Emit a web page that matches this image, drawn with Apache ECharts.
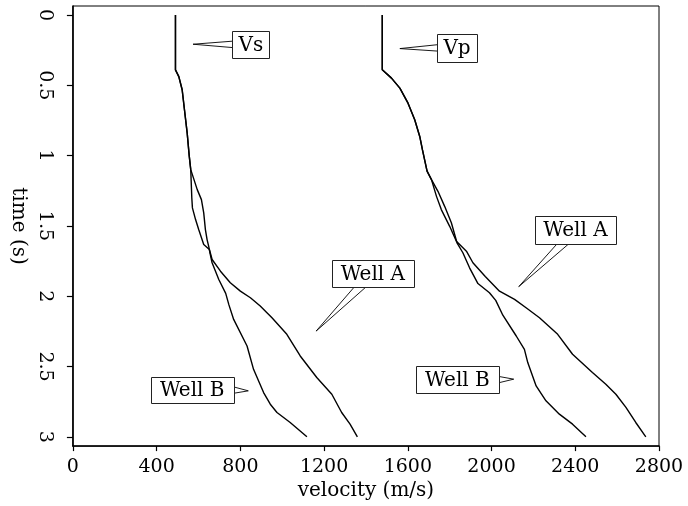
<!DOCTYPE html>
<html>
<head>
<meta charset="utf-8">
<script src="https://cdn.jsdelivr.net/npm/echarts@6/dist/echarts.min.js"></script>
<style>
html,body{margin:0;padding:0;background:#fff;}
#chart{width:688px;height:506px;}
</style>
</head>
<body>
<div id="chart"></div>
<script>
// ---- data (time in s, velocity in m/s) ----
const vsWellATime = [0, 0.39, 0.438, 0.532, 0.674, 0.84, 1.006, 1.10, 1.30, 1.372, 1.455, 1.526, 1.632, 1.668, 1.739, 1.822, 1.904, 1.964, 2.011, 2.07, 2.117, 2.153, 2.271, 2.425, 2.578, 2.697, 2.827, 2.91, 3.0];
const vsWellAVel  = [490, 490, 506, 522, 533, 546, 556, 563, 568, 571, 586, 601, 625, 652, 665, 705, 752, 800, 848, 895, 927, 951, 1022, 1086, 1165, 1237, 1284, 1324, 1359];

const vsWellBTime = [0, 0.39, 0.438, 0.532, 0.674, 0.84, 1.006, 1.10, 1.242, 1.313, 1.407, 1.526, 1.597, 1.647, 1.70, 1.762, 1.881, 1.98, 2.06, 2.165, 2.354, 2.52, 2.685, 2.768, 2.827, 2.898, 3.0];
const vsWellBVel  = [490, 490, 506, 522, 533, 546, 556, 563, 594, 614, 625, 633, 641, 649, 656, 665, 697, 730, 745, 768, 832, 863, 911, 943, 975, 1038, 1118];

const vpWellATime = [0, 0.39, 0.449, 0.52, 0.627, 0.745, 0.864, 0.96, 1.11, 1.171, 1.29, 1.384, 1.503, 1.609, 1.68, 1.762, 1.86, 1.964, 2.023, 2.082, 2.153, 2.271, 2.413, 2.543, 2.626, 2.697, 2.791, 2.898, 3.0];
const vpWellAVel  = [1478, 1478, 1522, 1562, 1601, 1633, 1657, 1670, 1692, 1713, 1737, 1760, 1800, 1832, 1880, 1911, 1970, 2038, 2110, 2165, 2229, 2316, 2387, 2482, 2546, 2594, 2642, 2689, 2737];

const vpWellBTime = [0, 0.39, 0.449, 0.52, 0.627, 0.745, 0.864, 0.96, 1.11, 1.171, 1.254, 1.361, 1.478, 1.62, 1.691, 1.798, 1.91, 1.975, 2.03, 2.135, 2.283, 2.378, 2.472, 2.638, 2.744, 2.839, 2.91, 3.0];
const vpWellBVel  = [1478, 1478, 1522, 1562, 1601, 1633, 1657, 1670, 1692, 1713, 1744, 1776, 1808, 1835, 1863, 1895, 1935, 1990, 2020, 2054, 2118, 2157, 2173, 2213, 2260, 2324, 2387, 2451];

const timeTicks = [0, 0.5, 1, 1.5, 2, 2.5, 3];
const velocityTicks = [0, 400, 800, 1200, 1600, 2000, 2400, 2800];

// callout annotations (anchored in data units)
const calloutText  = ['Vs', 'Vp', 'Well A', 'Well A', 'Well B', 'Well B'];
const calloutBoxV  = [850, 1835, 1433, 2401, 570, 1837];
const calloutBoxT  = [0.209, 0.234, 1.842, 1.530, 2.668, 2.593];
const calloutTipV  = [574, 1562, 1162, 2130, 838, 2106];
const calloutTipT  = [0.208, 0.239, 2.248, 1.932, 2.673, 2.59];
const calloutSide  = ['left', 'left', 'bottom', 'bottom', 'right', 'right'];

// ---- styles ----
const FONT = 'DejaVu Serif';
const boxW = [37, 40, 82, 81, 83, 83];
const boxH = [27, 28, 27, 28, 26, 27];

function zip(t, v) { return t.map((tt, i) => [v[i], tt]); }

const lineStyle = { color: '#000', width: 1.4 };
function curve(name, t, v) {
  return { name, type: 'line', data: zip(t, v), showSymbol: false, symbol: 'none',
           lineStyle, silent: true, animation: false, clip: false };
}

const calloutData = calloutText.map((s, i) => [calloutBoxV[i], calloutBoxT[i], calloutTipV[i], calloutTipT[i], i]);

function renderCallout(params, api) {
  const i = api.value(4);
  const c = api.coord([api.value(0), api.value(1)]);
  const tip = api.coord([api.value(2), api.value(3)]);
  const w = boxW[i], h = boxH[i];
  const x0 = Math.round(c[0] - w / 2) + 0.5, y0 = Math.round(c[1] - h / 2) + 0.5;
  let a1, a2;
  const side = calloutSide[i];
  if (side === 'left') { a1 = [x0, c[1] - 3.2]; a2 = [x0, c[1] + 3.2]; }
  else if (side === 'right') { a1 = [x0 + w, c[1] - 3]; a2 = [x0 + w, c[1] + 3]; }
  else { a1 = [c[0] - 19, y0 + h]; a2 = [c[0] - 7.5, y0 + h]; }
  return {
    type: 'group',
    children: [
      { type: 'polyline', shape: { points: [a1, tip, a2] }, style: { stroke: '#000', fill: null, lineWidth: 0.9 } },
      { type: 'rect', shape: { x: x0, y: y0, width: w, height: h }, style: { fill: '#fff', stroke: '#222', lineWidth: 1 } },
      { type: 'text', style: { text: calloutText[i], x: c[0], y: c[1] + 1, align: 'center', verticalAlign: 'middle',
          font: '20px "' + FONT + '"', fill: '#000' } }
    ]
  };
}

const chart = echarts.init(document.getElementById('chart'), null, { renderer: 'canvas' });
chart.setOption({
  animation: false,
  backgroundColor: '#fff',
  textStyle: { fontFamily: FONT, color: '#000' },
  grid: { left: 72, right: 29, top: 6, bottom: 59.3, show: true, borderColor: '#000', borderWidth: 1, containLabel: false },
  xAxis: {
    type: 'value', min: 0, max: 2800, interval: 400,
    name: 'velocity (m/s)', nameLocation: 'middle', nameGap: 34,
    nameTextStyle: { fontFamily: FONT, fontSize: 20, color: '#000' },
    axisLine: { show: true, onZero: false, lineStyle: { color: '#000', width: 1.6 } },
    axisTick: { show: true, inside: false, length: 5, lineStyle: { color: '#000', width: 1.2 } },
    axisLabel: { margin: 11, fontFamily: FONT, fontSize: 19, color: '#000',
                 customValues: velocityTicks, formatter: v => String(v) },
    splitLine: { show: false }
  },
  yAxis: {
    type: 'value', inverse: true, min: -0.0639, max: 3.066,
    name: 'time (s)', nameLocation: 'middle', nameGap: 32, nameRotate: -90,
    nameTextStyle: { fontFamily: FONT, fontSize: 20, color: '#000' },
    axisLine: { show: true, onZero: false, lineStyle: { color: '#000', width: 1.6 } },
    axisTick: { show: true, inside: false, length: 6, customValues: timeTicks, lineStyle: { color: '#000', width: 1.2 } },
    axisLabel: { rotate: -90, margin: 18, fontFamily: FONT, fontSize: 19, color: '#000',
                 customValues: timeTicks, formatter: v => String(v) },
    splitLine: { show: false }
  },
  series: [
    curve('Vs Well A', vsWellATime, vsWellAVel),
    curve('Vs Well B', vsWellBTime, vsWellBVel),
    curve('Vp Well A', vpWellATime, vpWellAVel),
    curve('Vp Well B', vpWellBTime, vpWellBVel),
    { type: 'custom', name: 'callouts', renderItem: renderCallout, data: calloutData,
      encode: { x: [0, 2], y: [1, 3] }, clip: false, silent: true, animation: false, z: 5 }
  ]
});
</script>
</body>
</html>
